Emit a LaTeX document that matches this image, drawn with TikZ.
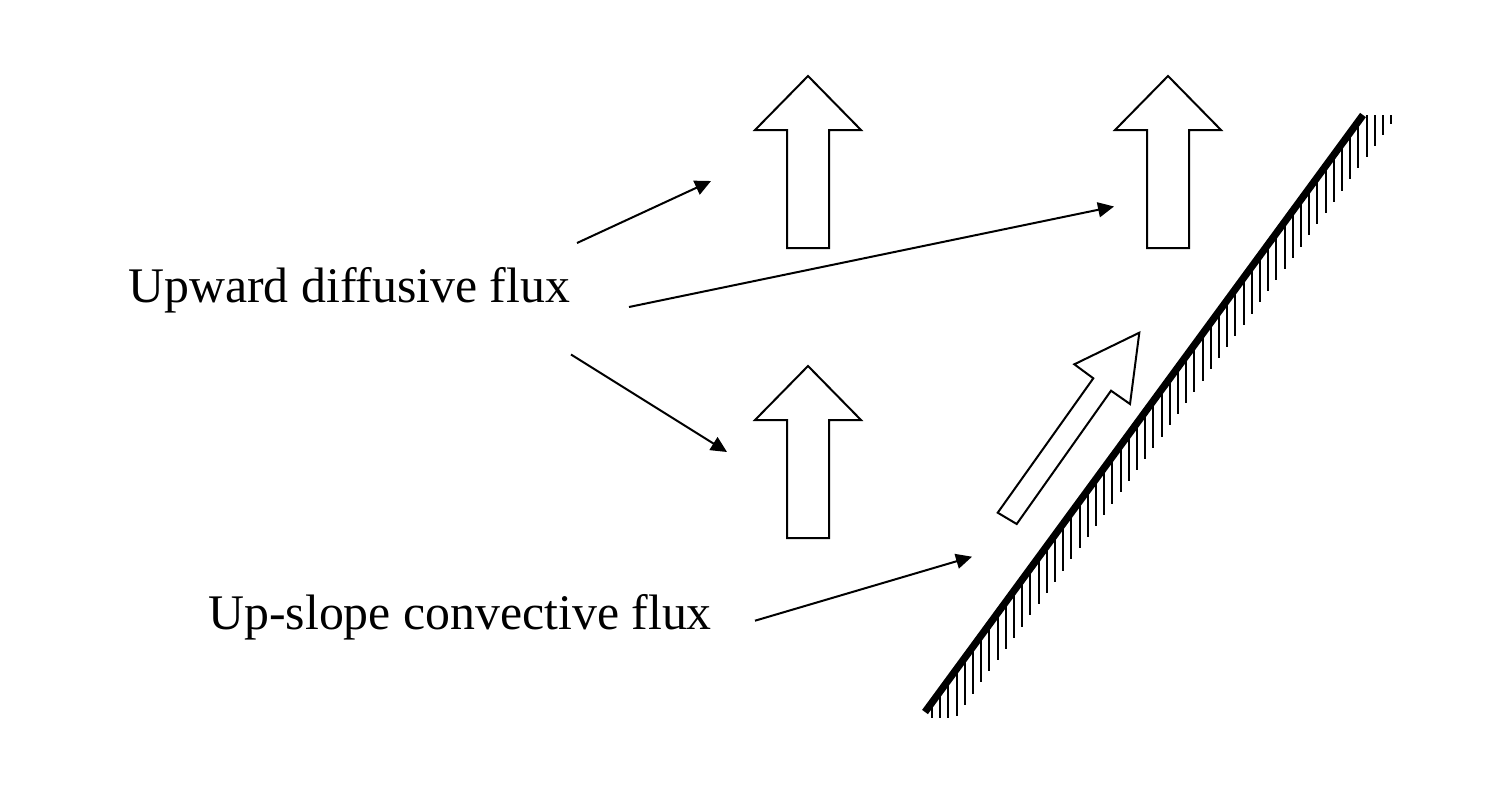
\documentclass[tikz,border=0pt]{standalone}
\usepackage{fontspec}
\setmainfont{Liberation Serif}
\usetikzlibrary{arrows.meta}
\begin{document}
\begin{tikzpicture}[x=0.5pt,y=-0.5pt,
  thinarrow/.style={line width=1pt,-{Triangle[length=8pt,width=7.5pt]}},
  blockarrow/.style={draw,line width=1pt,line join=miter,fill=white},
  label/.style={inner sep=0pt,anchor=base west,font=\fontsize{24.9pt}{30pt}\selectfont},
  hatchline/.style={line width=1pt},
  slope/.style={line width=3.6pt}]
\useasboundingbox[fill=white] (0,0) rectangle (1486,798);

% labels
\node[label] (diff) at (128,302) {Upward diffusive flux};
\node[label] (conv) at (208,629) {Up-slope convective flux};

% vertical block arrows
\foreach \n/\tx/\ty in {ba1/808/76, ba2/1168/76, ba3/808/366}{
  \draw[blockarrow,shift={(\tx,\ty)}] (0,0) -- (53,54) -- (21,54) -- (21,172)
     -- (-21,172) -- (-21,54) -- (-53,54) -- cycle;
}

% tilted block arrow
\draw[blockarrow] (1139.3,332.7) -- (1130,404) -- (1111,390.7) -- (1016.7,524)
   -- (997.7,512.7) -- (1093.3,378.3) -- (1074.3,364.3) -- cycle;

% hatching of the slope
\begin{scope}
\clip (900,115) rectangle (1420,717);
\foreach \i in {0,...,57}{
  \pgfmathsetmacro{\hx}{932+8.2*\i}
  \pgfmathsetmacro{\hy}{712-(\hx-925)*1.363}
  \draw[hatchline] (\hx,\hy) -- (\hx,\hy+47);
}
\end{scope}

% slope surface
\coordinate (sbot) at (925,712);
\coordinate (stop) at (1363,115);
\draw[slope] (sbot) -- (stop);

% connectors
\coordinate (a1s) at (577,243);
\coordinate (a1e) at (711,181);
\coordinate (a2s) at (629,307);
\coordinate (a2e) at (1114,206.5);
\coordinate (a3s) at (571,354.5);
\coordinate (a3e) at (727,452);
\coordinate (a4s) at (755,620.7);
\coordinate (a4e) at (972,556.7);
\draw[thinarrow] (a1s) -- (a1e);
\draw[thinarrow] (a2s) -- (a2e);
\draw[thinarrow] (a3s) -- (a3e);
\draw[thinarrow] (a4s) -- (a4e);
\end{tikzpicture}
\end{document}
